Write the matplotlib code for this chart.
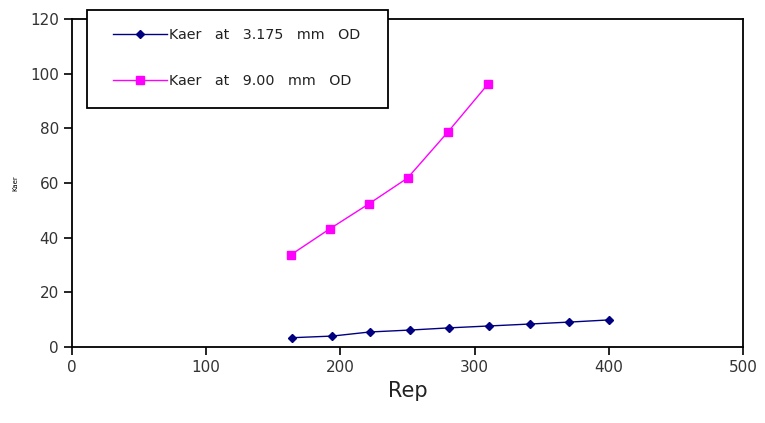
import numpy as np
import matplotlib.pyplot as plt
from matplotlib.patches import Rectangle

# data
rep_small = [164, 194, 222, 252, 281, 311, 341, 370, 400]
kaer_small = [3.4, 4.0, 5.5, 6.2, 7.0, 7.7, 8.4, 9.1, 9.9]
rep_big = [163, 192, 221, 250, 280, 310]
kaer_big = [33.7, 43.2, 52.3, 61.8, 78.6, 96.2]

W, H = 765, 423
fig = plt.figure(figsize=(W/100, H/100), dpi=100)
ax = fig.add_axes([72/W, 1-347/H, (743-72)/W, (347-19)/H])

ax.plot(rep_small, kaer_small, color='#000080', marker='D', markersize=4,
        linewidth=1.0, label='Kaer   at   3.175   mm   OD')
ax.plot(rep_big, kaer_big, color='#ff00ff', marker='s', markersize=6,
        linewidth=1.0, label='Kaer   at   9.00   mm   OD')

ax.set_xlim(0, 500)
ax.set_ylim(0, 120)
ax.set_xticks([0, 100, 200, 300, 400, 500])
ax.set_yticks([0, 20, 40, 60, 80, 100, 120])
ax.tick_params(direction='out', length=6, width=1.2, labelsize=11,
               colors='black', labelcolor='#333333')
for s in ax.spines.values():
    s.set_linewidth(1.3)

ax.set_xlabel('Rep', fontsize=15, color='#222222')
ax.set_ylabel('Kaer', fontsize=5, labelpad=8)

# legend box drawn separately so the padding can match
fig.patches.append(Rectangle((87/W, 1-108/H), (388-87)/W, (108-10)/H,
                             transform=fig.transFigure, facecolor='white',
                             edgecolor='black', linewidth=1.3, zorder=5))
leg = fig.legend(loc='upper left', bbox_to_anchor=(113/W, 1-28/H),
                 fontsize=10.3, frameon=False, handlelength=3.8,
                 borderpad=0, labelspacing=2.25, borderaxespad=0,
                 handletextpad=0.1)
leg.set_zorder(6)
for t in leg.get_texts():
    t.set_color('#222222')

fig.savefig('out.png', dpi=100)
